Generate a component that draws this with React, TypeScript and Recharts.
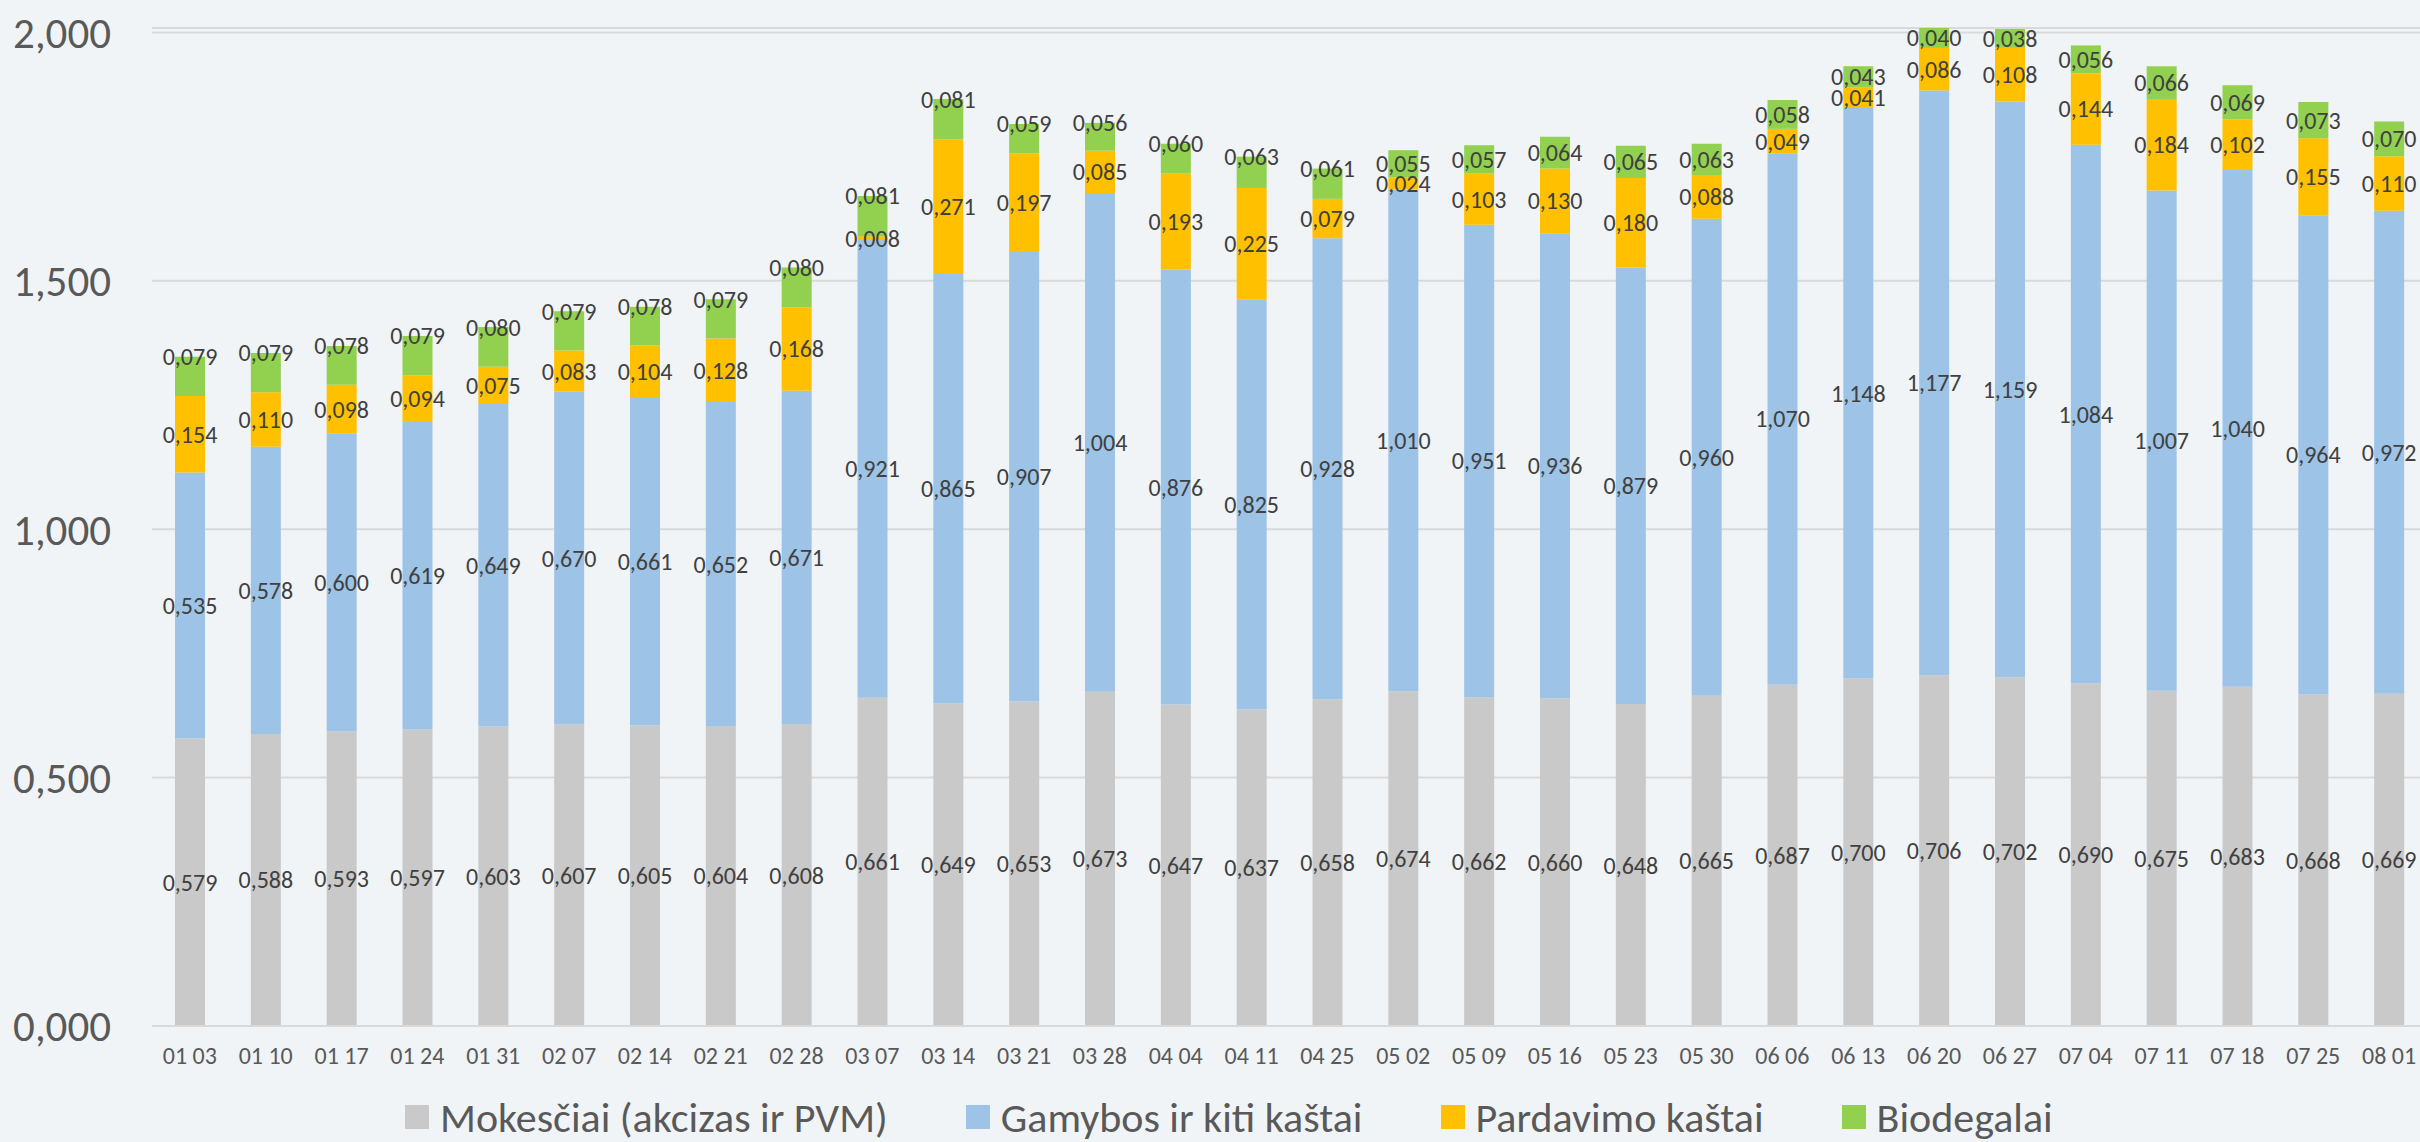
import React from 'react';
import { BarChart, Bar, XAxis, YAxis, CartesianGrid, Legend, LabelList } from 'recharts';

const categories = ['01 03','01 10','01 17','01 24','01 31','02 07','02 14','02 21','02 28','03 07','03 14','03 21','03 28','04 04','04 11','04 25','05 02','05 09','05 16','05 23','05 30','06 06','06 13','06 20','06 27','07 04','07 11','07 18','07 25','08 01'];
const taxes = [0.579,0.588,0.593,0.597,0.603,0.607,0.605,0.604,0.608,0.661,0.649,0.653,0.673,0.647,0.637,0.658,0.674,0.662,0.660,0.648,0.665,0.687,0.700,0.706,0.702,0.690,0.675,0.683,0.668,0.669];
const production = [0.535,0.578,0.600,0.619,0.649,0.670,0.661,0.652,0.671,0.921,0.865,0.907,1.004,0.876,0.825,0.928,1.010,0.951,0.936,0.879,0.960,1.070,1.148,1.177,1.159,1.084,1.007,1.040,0.964,0.972];
const selling = [0.154,0.110,0.098,0.094,0.075,0.083,0.104,0.128,0.168,0.008,0.271,0.197,0.085,0.193,0.225,0.079,0.024,0.103,0.130,0.180,0.088,0.049,0.041,0.086,0.108,0.144,0.184,0.102,0.155,0.110];
const biofuel = [0.079,0.079,0.078,0.079,0.080,0.079,0.078,0.079,0.080,0.081,0.081,0.059,0.056,0.060,0.063,0.061,0.055,0.057,0.064,0.065,0.063,0.058,0.043,0.040,0.038,0.056,0.066,0.069,0.073,0.070];
const yTicks = [0, 0.5, 1, 1.5, 2];

const seriesKeys = ['taxes', 'production', 'selling', 'biofuel'];
const seriesNames: Record<string, string> = {
  taxes: 'Mokesčiai (akcizas ir PVM)',
  production: 'Gamybos ir kiti kaštai',
  selling: 'Pardavimo kaštai',
  biofuel: 'Biodegalai',
};
const seriesColors: Record<string, string> = {
  taxes: '#C9C9C9',
  production: '#9DC3E6',
  selling: '#FFC000',
  biofuel: '#92D050',
};

const data = categories.map((c, i) => ({
  cat: c,
  taxes: taxes[i],
  production: production[i],
  selling: selling[i],
  biofuel: biofuel[i],
}));

const FONT = 'Carlito, Calibri, Lato, "Open Sans", sans-serif';
const fmt = (v: any) => Number(v).toFixed(3).replace('.', ',');
const LABEL_SIZE = 24;

// In the reference, the top (Biodegalai) labels of the earlier weeks sit on the bar's top edge,
// later ones are centred in the segment.
const TOP_EDGE_UNTIL = 16;

const TopLabel = (props: any) => {
  const { x, y, width, height, value, index } = props;
  const cx = Number(x) + Number(width) / 2;
  const cy = index < TOP_EDGE_UNTIL ? Number(y) : Number(y) + Number(height) / 2;
  return (
    <text x={cx} y={cy} textAnchor="middle" dominantBaseline="central" fill="#404040" fontSize={LABEL_SIZE} fontFamily={FONT}>
      {fmt(value)}
    </text>
  );
};

const LegendContent = (props: any) => {
  const payload = [...(props.payload || [])].sort(
    (a: any, b: any) => seriesKeys.indexOf(a.dataKey) - seriesKeys.indexOf(b.dataKey)
  );
  return (
    <div style={{ display: 'flex', alignItems: 'center', height: 50, paddingLeft: 405, fontFamily: FONT }}>
      {payload.map((p: any, i: number) => (
        <div key={i} style={{ display: 'flex', alignItems: 'center', marginRight: 78 }}>
          <div style={{ width: 24, height: 24, background: p.color, marginRight: 11 }} />
          <span style={{ fontSize: 42, color: '#595959', whiteSpace: 'nowrap' }}>{p.value}</span>
        </div>
      ))}
    </div>
  );
};

export default function App() {
  const labelProps = { position: 'center' as const, fill: '#404040', fontSize: LABEL_SIZE, fontFamily: FONT, formatter: fmt };
  return (
    <div style={{ position: 'absolute', left: 0, top: 0, width: 2420, height: 1142, overflow: 'hidden', background: '#F0F4F7' }}>
      <BarChart width={2430} height={1142} data={data} margin={{ top: 28, right: 3, bottom: 0, left: 0 }} barSize={30}>
        <CartesianGrid vertical={false} stroke="#D9D9D9" strokeWidth={2} />
        <XAxis
          dataKey="cat"
          interval={0}
          height={66}
          tickLine={false}
          tickSize={0}
          tickMargin={21}
          axisLine={{ stroke: '#D9D9D9', strokeWidth: 2 }}
          tick={{ fill: '#595959', fontSize: 24, fontFamily: FONT }}
        />
        <YAxis
          domain={[0, 2]}
          ticks={yTicks}
          width={152}
          axisLine={false}
          tickLine={false}
          tickSize={0}
          tickMargin={41}
          tickFormatter={fmt}
          tick={{ fill: '#595959', fontSize: 43, fontFamily: FONT }}
        />
        <Legend verticalAlign="bottom" content={<LegendContent />} wrapperStyle={{ left: 0, width: 2430 }} />
        {seriesKeys.map((k) => (
          <Bar key={k} dataKey={k} name={seriesNames[k]} stackId="a" fill={seriesColors[k]} isAnimationActive={false}>
            {k === 'biofuel' ? (
              <LabelList dataKey={k} content={<TopLabel />} />
            ) : (
              <LabelList dataKey={k} {...labelProps} />
            )}
          </Bar>
        ))}
      </BarChart>
    </div>
  );
}
